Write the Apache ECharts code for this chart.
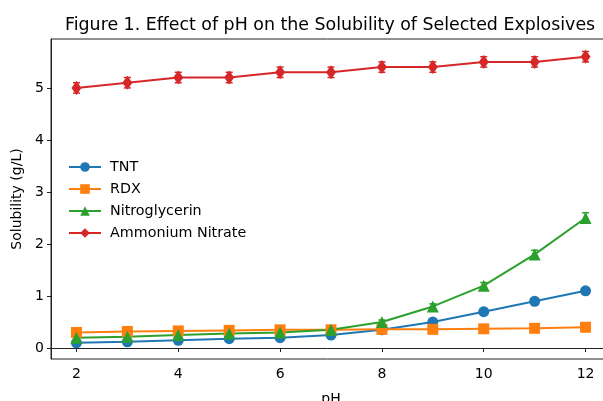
<!DOCTYPE html>
<html>
<head>
<meta charset="utf-8">
<script src="https://cdn.jsdelivr.net/npm/echarts@6/dist/echarts.min.js"></script>
<style>
  html, body { margin: 0; padding: 0; background: #fff; }
  #chart { width: 603px; height: 401px; }
</style>
</head>
<body>
<div id="chart"></div>
<script>
// data
var phValues = [2, 3, 4, 5, 6, 7, 8, 9, 10, 11, 12];
var tnt = [0.1, 0.12, 0.15, 0.18, 0.2, 0.25, 0.35, 0.5, 0.7, 0.9, 1.1];
var rdx = [0.3, 0.32, 0.33, 0.34, 0.35, 0.35, 0.36, 0.36, 0.37, 0.38, 0.4];
var nitro = [0.2, 0.22, 0.25, 0.28, 0.3, 0.35, 0.5, 0.8, 1.2, 1.8, 2.5];
var ammonium = [5.0, 5.1, 5.2, 5.2, 5.3, 5.3, 5.4, 5.4, 5.5, 5.5, 5.6];
var tntErr = [0.02, 0.02, 0.02, 0.02, 0.02, 0.03, 0.03, 0.04, 0.05, 0.05, 0.06];
var rdxErr = [0.02, 0.02, 0.02, 0.02, 0.02, 0.02, 0.02, 0.02, 0.02, 0.02, 0.02];
var nitroErr = [0.02, 0.02, 0.02, 0.02, 0.02, 0.03, 0.04, 0.05, 0.06, 0.08, 0.1];
var ammoniumErr = [0.1, 0.1, 0.1, 0.1, 0.1, 0.1, 0.1, 0.1, 0.1, 0.1, 0.1];
var xTicks = [2, 4, 6, 8, 10, 12];
var yTicks = [0, 1, 2, 3, 4, 5];

var seriesDefs = [
    { name: 'TNT', values: tnt, err: tntErr, color: '#1f77b4', symbol: 'circle', size: 11 },
    { name: 'RDX', values: rdx, err: rdxErr, color: '#ff7f0e', symbol: 'rect', size: 11 },
    { name: 'Nitroglycerin', values: nitro, err: nitroErr, color: '#2ca02c', symbol: 'triangle', size: 12 },
    { name: 'Ammonium Nitrate', values: ammonium, err: ammoniumErr, color: '#d62728', symbol: 'diamond', size: [10, 14] }
];

var lineSeries = seriesDefs.map(function (s) {
    return {
        name: s.name,
        type: 'line',
        data: phValues.map(function (x, i) { return [x, s.values[i]]; }),
        symbol: s.symbol,
        symbolSize: s.size,
        showAllSymbol: true,
        color: s.color,
        lineStyle: { width: 2, color: s.color },
        itemStyle: { color: s.color },
        z: 3
    };
});

// error bars
var errSeries = seriesDefs.map(function (s) {
    return {
        name: s.name,
        type: 'custom',
        data: phValues.map(function (x, i) { return [x, s.values[i] - s.err[i], s.values[i] + s.err[i]]; }),
        renderItem: function (params, api) {
            var lo = api.coord([api.value(0), api.value(1)]);
            var hi = api.coord([api.value(0), api.value(2)]);
            var cap = 3.5;
            var style = { stroke: s.color, lineWidth: 1.5 };
            return {
                type: 'group',
                children: [
                    { type: 'line', shape: { x1: lo[0], y1: lo[1], x2: hi[0], y2: hi[1] }, style: style },
                    { type: 'line', shape: { x1: lo[0] - cap, y1: lo[1], x2: lo[0] + cap, y2: lo[1] }, style: style },
                    { type: 'line', shape: { x1: hi[0] - cap, y1: hi[1], x2: hi[0] + cap, y2: hi[1] }, style: style }
                ]
            };
        },
        encode: { x: 0, y: [1, 2] },
        z: 2,
        silent: true
    };
});

var chart = echarts.init(document.getElementById('chart'));
chart.setOption({
    animation: false,
    backgroundColor: '#fff',
    textStyle: { fontFamily: 'DejaVu Sans' },
    title: {
        text: 'Figure 1. Effect of pH on the Solubility of Selected Explosives',
        left: 60,
        top: 12,
        textStyle: { fontSize: 17.4, fontWeight: 'normal', color: '#000', fontFamily: 'DejaVu Sans' }
    },
    grid: {
        left: 51, top: 39, width: 560, height: 320,
        containLabel: false,
        outerBoundsMode: 'none',
        show: true, borderColor: '#222', borderWidth: 1, backgroundColor: 'transparent'
    },
    legend: {
        data: seriesDefs.map(function (s) { return s.name; }),
        orient: 'vertical',
        left: 63,
        top: 155,
        itemWidth: 32,
        itemHeight: 12,
        itemGap: 8,
        textStyle: { fontSize: 14.3, color: '#000', fontFamily: 'DejaVu Sans', padding: [0, 0, 0, 4] }
    },
    xAxis: {
        type: 'value',
        min: 1.5,
        max: 12.5,
        name: 'pH',
        nameLocation: 'middle',
        nameGap: 33,
        nameTextStyle: { fontSize: 14, color: '#000' },
        splitLine: { show: false },
        axisLine: { lineStyle: { color: '#222' } },
        axisTick: { length: 4, lineStyle: { color: '#222' }, customValues: xTicks },
        axisLabel: { fontSize: 14, color: '#000', margin: 8, customValues: xTicks }
    },
    yAxis: {
        type: 'value',
        min: -0.21,
        max: 5.94,
        name: 'Solubility (g/L)',
        nameLocation: 'middle',
        nameGap: 27,
        nameTextStyle: { fontSize: 14, color: '#000' },
        splitLine: { show: false },
        axisLine: { show: true, lineStyle: { color: '#222' } },
        axisTick: { show: true, length: 4, lineStyle: { color: '#222' }, customValues: yTicks },
        axisLabel: { fontSize: 14, color: '#000', margin: 7, customValues: yTicks }
    },
    series: lineSeries.concat(errSeries)
});
</script>
</body>
</html>
